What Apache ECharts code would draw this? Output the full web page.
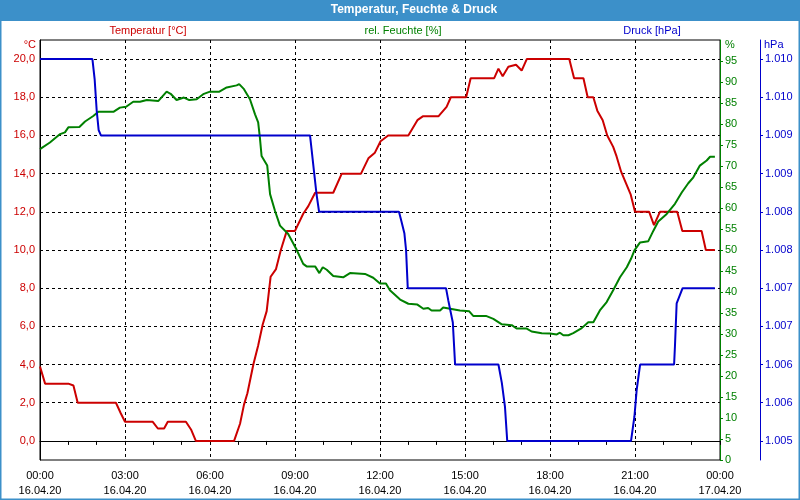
<!DOCTYPE html>
<html><head><meta charset="utf-8">
<script src="https://cdn.jsdelivr.net/npm/echarts@6/dist/echarts.min.js"></script>
<style>html,body{margin:0;padding:0;background:#fff}#c{width:800px;height:500px}</style>
</head><body><div id="c"></div>
<script>
// ---- data (hours since 16.04.20 00:00) ----
const tempHours = [0,0.18,1.0,1.05,1.18,1.33,2.68,2.85,3.0,3.98,4.16,4.38,4.51,5.15,5.33,5.5,6.85,7.06,7.2,7.32,7.53,7.7,7.86,8.0,8.14,8.33,8.5,8.71,9.0,9.29,9.47,9.71,10.35,10.65,11.33,11.59,11.82,12.02,12.29,13.0,13.32,13.51,14.06,14.35,14.5,15.04,15.2,16.03,16.18,16.33,16.53,16.8,17.0,17.18,18.68,18.85,19.18,19.33,19.53,19.67,19.86,20.02,20.23,20.35,20.51,20.68,20.85,21.0,21.5,21.67,21.88,22.49,22.67,23.35,23.5,23.82];
const tempValues = [3.9,3.0,3.0,2.9,2.9,2.0,2.0,1.45,1.0,1.0,0.65,0.65,1.0,1.0,0.6,0.0,0.0,0.9,1.9,2.5,4.0,5.0,6.1,6.8,8.6,9.0,10.0,11.0,11.0,11.9,12.3,13.0,13.0,14.0,14.0,14.8,15.1,15.7,16.0,16.0,16.8,17.0,17.0,17.5,18.0,18.0,19.0,19.0,19.5,19.1,19.6,19.7,19.4,20.0,20.0,19.0,19.0,18.0,18.0,17.3,16.8,16.0,15.4,14.9,14.1,13.5,12.9,12.0,12.0,11.3,12.0,12.0,11.0,11.0,10.0,10.0];

const humHours = [0,0.35,0.71,0.88,1.0,1.39,1.59,1.88,2.06,2.59,2.82,3.04,3.29,3.53,3.77,4.18,4.47,4.61,4.82,5.08,5.27,5.53,5.76,6.0,6.33,6.59,6.94,7.03,7.2,7.41,7.59,7.7,7.76,7.82,8.02,8.12,8.29,8.47,8.76,9.04,9.29,9.41,9.71,9.86,9.98,10.12,10.35,10.7,10.94,11.47,11.76,12.0,12.21,12.35,12.71,13.0,13.32,13.53,13.7,13.82,14.12,14.23,14.82,15.15,15.29,15.74,16.0,16.3,16.65,16.82,17.18,17.35,17.71,18.0,18.24,18.35,18.47,18.65,18.82,19.12,19.35,19.53,19.76,20.0,20.23,20.47,20.71,20.86,20.98,21.18,21.47,21.65,21.82,22.12,22.41,22.65,22.88,23.06,23.29,23.53,23.65,23.82];
const humValues = [74.0,75.6,77.6,78.0,79.2,79.3,80.6,81.9,82.9,82.9,83.9,84.1,85.3,85.3,85.7,85.5,87.7,87.2,85.7,86.3,85.7,85.9,87.1,87.7,87.7,88.7,89.2,89.5,88.3,85.9,82.3,80.4,76.8,72.4,70.1,63.3,59.4,55.8,53.8,50.3,46.7,46.1,46.1,44.5,45.9,45.3,43.8,43.5,44.5,44.3,43.4,42.0,42.0,40.4,38.2,37.2,37.0,36.0,36.2,35.6,35.6,36.3,35.6,35.4,34.3,34.3,33.6,32.3,32.1,31.3,31.3,30.6,30.2,30.1,29.9,30.3,29.7,29.7,30.2,31.4,32.8,32.8,35.6,37.6,40.4,43.5,45.9,47.9,49.9,51.8,52.1,54.6,56.8,58.6,61.0,63.7,65.9,67.3,70.1,71.3,72.2,72.2];

const pressHours = [0,1.85,1.93,2.0,2.07,2.15,9.53,9.59,9.67,9.76,9.85,12.67,12.76,12.86,12.92,12.98,14.33,14.41,14.57,14.65,16.18,16.3,16.41,16.49,20.86,20.98,21.06,21.18,22.38,22.41,22.47,22.68,23.82];
const pressValues = [1010.0,1010.0,1009.73,1009.33,1009.07,1009.0,1009.0,1008.8,1008.53,1008.23,1008.0,1008.0,1007.87,1007.72,1007.5,1007.0,1007.0,1006.84,1006.55,1006.0,1006.0,1005.76,1005.45,1005.0,1005.0,1005.32,1005.67,1006.0,1006.0,1006.24,1006.8,1007.0,1007.0];

const timeLabels = ['00:00','03:00','06:00','09:00','12:00','15:00','18:00','21:00','00:00'];
const dateLabels = ['16.04.20','16.04.20','16.04.20','16.04.20','16.04.20','16.04.20','16.04.20','16.04.20','17.04.20'];
const tempTicks = [0,2,4,6,8,10,12,14,16,18,20];
const pressTicks = [1005,1005.5,1006,1006.5,1007,1007.5,1008,1008.5,1009,1009.5,1010];

const RED = '#cc0000', GREEN = '#008000', BLUE = '#0000cc';
const FONT = 'Liberation Sans';

function zip(a, b) { return a.map((v, i) => [v, b[i]]); }

const chart = echarts.init(document.getElementById('c'), null, {renderer: 'canvas'});
chart.setOption({
  animation: false,
  backgroundColor: '#ffffff',
  textStyle: {fontFamily: FONT},
  grid: {left: 40, right: 80, top: 40, bottom: 40, show: true, borderColor: '#000', borderWidth: 1, backgroundColor: '#fff', containLabel: false},
  xAxis: {
    type: 'value', min: 0, max: 24, interval: 3,
    axisLine: {show: true, lineStyle: {color: '#000', width: 1}},
    axisTick: {show: true, length: 4, lineStyle: {color: '#000'}},
    minorTick: {show: true, splitNumber: 3, length: 4, lineStyle: {color: '#000'}},
    splitLine: {show: true, lineStyle: {color: '#000', type: [3, 3], width: 1}},
    axisLabel: {
      color: '#000', fontSize: 11, fontFamily: FONT, lineHeight: 15, margin: 8,
      formatter: v => { const i = Math.round(v / 3); return timeLabels[i] + '\n' + dateLabels[i]; }
    }
  },
  yAxis: [
    {
      type: 'value', position: 'left', min: -1, max: 21,
      axisLine: {show: true, lineStyle: {color: '#000'}},
      axisTick: {show: false, customValues: tempTicks},
      splitLine: {show: true, lineStyle: {color: '#000', type: [3, 3], width: 1}},
      axisLabel: {
        customValues: tempTicks, color: RED, fontSize: 11, fontFamily: FONT, margin: 5,
        formatter: v => v.toFixed(1).replace('.', ',')
      }
    },
    {
      type: 'value', position: 'right', min: 0, max: 100, interval: 5,
      axisLine: {show: true, lineStyle: {color: GREEN, width: 1}},
      axisTick: {show: true, length: 3, lineStyle: {color: GREEN}},
      splitLine: {show: false},
      axisLabel: {
        color: GREEN, fontSize: 11, fontFamily: FONT, margin: 5, showMaxLabel: false,
        formatter: v => (v === 100 ? '' : String(v))
      }
    },
    {
      type: 'value', position: 'right', offset: 40, min: 1004.75, max: 1010.25,
      axisLine: {show: true, lineStyle: {color: BLUE, width: 1}},
      axisTick: {show: true, length: 3, customValues: pressTicks, lineStyle: {color: BLUE}},
      splitLine: {show: false},
      axisLabel: {
        customValues: pressTicks, color: BLUE, fontSize: 11, fontFamily: FONT, margin: 5,
        formatter: v => String(Math.round(v)).replace(/(\d)(?=(\d{3})+$)/, '$1.')
      }
    }
  ],
  series: [
    {name: 'Temperatur [°C]', type: 'line', yAxisIndex: 0, showSymbol: false, data: zip(tempHours, tempValues),
     lineStyle: {color: RED, width: 2}, itemStyle: {color: RED}, z: 3},
    {name: 'rel. Feuchte [%]', type: 'line', yAxisIndex: 1, showSymbol: false, data: zip(humHours, humValues),
     lineStyle: {color: GREEN, width: 2}, itemStyle: {color: GREEN}, z: 3},
    {name: 'Druck [hPa]', type: 'line', yAxisIndex: 2, showSymbol: false, data: zip(pressHours, pressValues),
     lineStyle: {color: BLUE, width: 2}, itemStyle: {color: BLUE}, z: 3}
  ],
  graphic: [
    {type: 'rect', left: 0, top: 0, shape: {x: 0, y: 0, width: 800, height: 21}, style: {fill: '#3c90c9'}, z: 10},
    {type: 'rect', shape: {x: 0.5, y: 0.5, width: 799, height: 499}, style: {fill: null, stroke: '#3c90c9', lineWidth: 2}, z: 10, silent: true},
    {type: 'text', x: 414, y: 10, style: {text: 'Temperatur, Feuchte & Druck', fill: '#fff', font: 'bold 12px "Liberation Sans"', textAlign: 'center', textVerticalAlign: 'middle'}, z: 11},
    {type: 'text', x: 148, y: 31, style: {text: 'Temperatur [°C]', fill: RED, font: '11px "Liberation Sans"', textAlign: 'center', textVerticalAlign: 'middle'}, z: 11},
    {type: 'text', x: 403, y: 31, style: {text: 'rel. Feuchte [%]', fill: GREEN, font: '11px "Liberation Sans"', textAlign: 'center', textVerticalAlign: 'middle'}, z: 11},
    {type: 'text', x: 652, y: 31, style: {text: 'Druck [hPa]', fill: BLUE, font: '11px "Liberation Sans"', textAlign: 'center', textVerticalAlign: 'middle'}, z: 11},
    {type: 'text', x: 36, y: 45, style: {text: '°C', fill: RED, font: '11px "Liberation Sans"', textAlign: 'right', textVerticalAlign: 'middle'}, z: 11},
    {type: 'text', x: 725, y: 45, style: {text: '%', fill: GREEN, font: '11px "Liberation Sans"', textAlign: 'left', textVerticalAlign: 'middle'}, z: 11},
    {type: 'text', x: 764, y: 45, style: {text: 'hPa', fill: BLUE, font: '11px "Liberation Sans"', textAlign: 'left', textVerticalAlign: 'middle'}, z: 11}
  ]
});
</script>
</body></html>
